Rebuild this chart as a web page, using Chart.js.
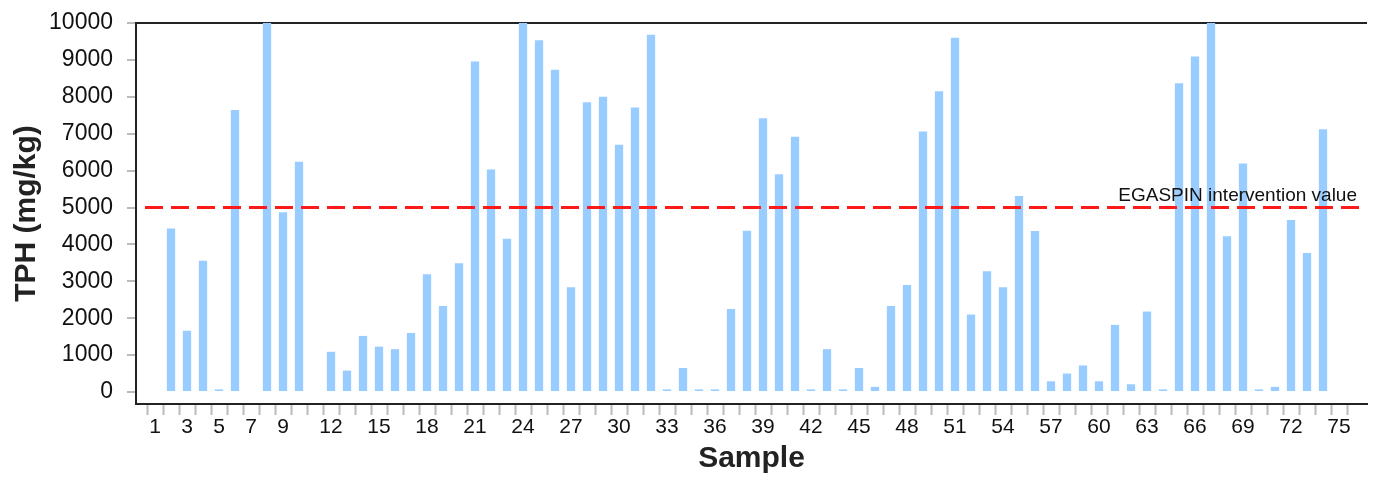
<!DOCTYPE html>
<html>
<head>
<meta charset="utf-8">
<script src="https://cdn.jsdelivr.net/npm/chart.js@4"></script>
<style>
  html, body { margin: 0; padding: 0; background: #fff; }
  #wrap { width: 1380px; height: 479px; position: relative; }
</style>
</head>
<body>
<div id="wrap"><canvas id="tphChart"></canvas></div>
<script>
// sample numbers along the x axis
var samples = [1, 2, 3, 4, 5, 6, 7, 8, 9, 10, 11, 12, 13, 14, 15, 16, 17, 18, 19, 20,
  21, 22, 23, 24, 25, 26, 27, 28, 29, 30, 31, 32, 33, 34, 35, 36, 37, 38, 39, 40,
  41, 42, 43, 44, 45, 46, 47, 48, 49, 50, 51, 52, 53, 54, 55, 56, 57, 58, 59, 60,
  61, 62, 63, 64, 65, 66, 67, 68, 69, 70, 71, 72, 73, 74, 75];

// TPH (mg/kg)
var tph = [0, 4430, 1660, 3560, 70, 7640, 0, 10000, 4870, 6240,
  0, 1090, 580, 1520, 1230, 1160, 1600, 3190, 2330, 3490,
  8960, 6030, 4150, 10000, 9530, 8730, 2840, 7850, 8000, 6700,
  7710, 9680, 70, 650, 70, 70, 2250, 4370, 7420, 5900,
  6920, 70, 1160, 70, 650, 140, 2330, 2900, 7060, 8150,
  9600, 2100, 3270, 2840, 5310, 4360, 290, 500, 720, 290,
  1820, 210, 2180, 70, 8370, 9090, 10000, 4220, 6190, 70,
  140, 4660, 3770, 7120, 0];

var xLabels = [1, 3, 5, 7, 9, 12, 15, 18, 21, 24, 27, 30, 33, 36, 39, 42, 45, 48, 51, 54, 57, 60, 63, 66, 69, 72, 75];
var yTicks = [0, 1000, 2000, 3000, 4000, 5000, 6000, 7000, 8000, 9000, 10000];

var interventionValue = 5000;
var interventionLabel = 'EGASPIN intervention value';

var points = samples.map(function (s, i) { return { x: s, y: tph[i] }; });

// dashed red threshold line + its label
var thresholdPlugin = {
  id: 'threshold',
  afterDatasetsDraw: function (chart) {
    var ctx = chart.ctx;
    var area = chart.chartArea;
    var y = chart.scales.y.getPixelForValue(interventionValue);
    ctx.save();
    ctx.strokeStyle = '#ff1a1a';
    ctx.lineWidth = 3;
    ctx.setLineDash([18, 8]);
    ctx.beginPath();
    ctx.moveTo(area.left + 9, y);
    ctx.lineTo(area.right, y);
    ctx.stroke();
    ctx.setLineDash([]);
    ctx.fillStyle = '#111';
    ctx.font = '19px "Liberation Sans", Arial, sans-serif';
    ctx.textAlign = 'right';
    ctx.textBaseline = 'alphabetic';
    ctx.fillText(interventionLabel, area.right - 10, y - 7);
    ctx.restore();
  }
};

var ctx = document.getElementById('tphChart').getContext('2d');
var chart = new Chart(ctx, {
  type: 'bar',
  data: {
    datasets: [{
      label: 'TPH',
      data: points,
      backgroundColor: '#99ccff',
      borderWidth: 0,
      barPercentage: 0.52,
      categoryPercentage: 1.0
    }]
  },
  options: {
    responsive: true,
    maintainAspectRatio: false,
    animation: false,
    layout: { padding: { top: 23, right: 13, left: 0, bottom: 0 } },
    plugins: {
      legend: { display: false },
      tooltip: { enabled: false }
    },
    scales: {
      x: {
        type: 'linear',
        min: -0.1875,
        max: 76.75,
        offset: false,
        afterBuildTicks: function (scale) {
          scale.ticks = samples.map(function (s) { return { value: s }; });
        },
        afterFit: function (scale) {
          scale.height = 75;
          scale.paddingLeft = 0;
          scale.paddingRight = 0;
        },
        ticks: {
          autoSkip: false,
          maxRotation: 0,
          padding: 0,
          color: '#111',
          font: { family: '"Liberation Sans", Arial, sans-serif', size: 21 },
          callback: function (v) { return xLabels.indexOf(v) >= 0 ? String(v) : ''; }
        },
        grid: {
          offset: true,
          drawOnChartArea: false,
          tickLength: 11,
          tickColor: '#bbbbbb',
          tickWidth: 2
        },
        border: { display: true, color: '#222', width: 2 },
        title: {
          display: true,
          text: 'Sample',
          color: '#222',
          padding: { top: 0, bottom: 2 },
          font: { family: '"Liberation Sans", Arial, sans-serif', size: 30, weight: 'bold' }
        }
      },
      y: {
        min: -325,
        max: 10000,
        afterBuildTicks: function (scale) {
          scale.ticks = yTicks.map(function (v) { return { value: v }; });
        },
        afterFit: function (scale) {
          scale.width = 136;
          scale.paddingTop = 0;
          scale.paddingBottom = 0;
        },
        ticks: {
          padding: 14,
          color: '#111',
          font: { family: '"Liberation Sans", Arial, sans-serif', size: 23 },
          callback: function (v) { return String(v); }
        },
        grid: {
          drawOnChartArea: true,
          color: function (c) { return c.tick && c.tick.value === 10000 ? '#222' : 'rgba(0,0,0,0)'; },
          lineWidth: 2,
          tickLength: 9,
          tickColor: '#bbbbbb',
          tickWidth: 2
        },
        border: { display: true, color: '#222', width: 2 },
        title: {
          display: true,
          text: 'TPH (mg/kg)',
          color: '#222',
          padding: { top: 9, bottom: 0 },
          font: { family: '"Liberation Sans", Arial, sans-serif', size: 30, weight: 'bold' }
        }
      }
    }
  },
  plugins: [thresholdPlugin]
});
</script>
</body>
</html>
